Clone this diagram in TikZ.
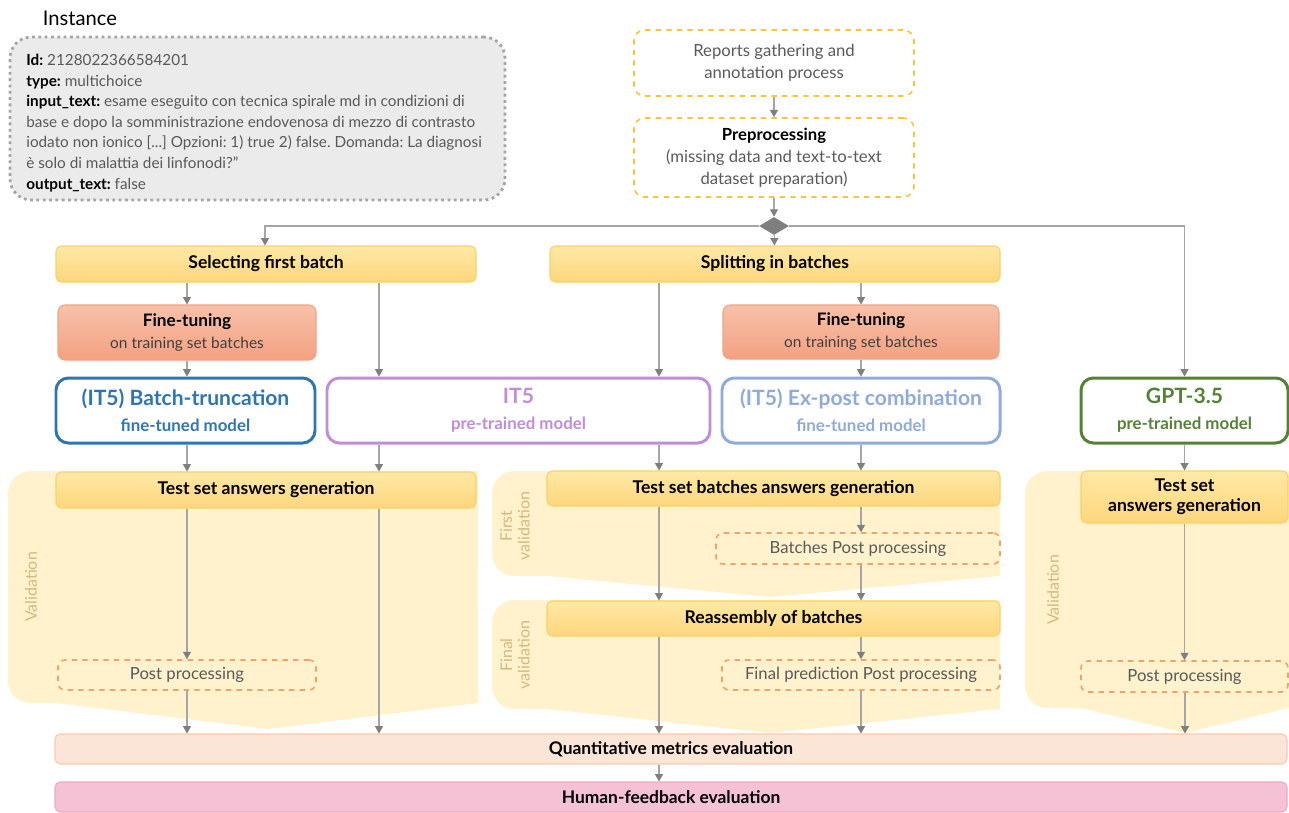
\documentclass[tikz,border=0pt]{standalone}
\usepackage{fontspec}
\setmainfont{Lato}
\usetikzlibrary{arrows.meta,shapes.geometric}
\frenchspacing

\definecolor{linegray}{HTML}{A6A6A6}
\definecolor{tipgray}{HTML}{7F7F7F}
\definecolor{instfill}{HTML}{EBEBEB}
\definecolor{instdraw}{HTML}{A5A5A5}
\definecolor{dashyel}{HTML}{FBC531}
\definecolor{yeltop}{HTML}{FEE9A6}
\definecolor{yelbot}{HTML}{FDD67C}
\definecolor{yeldraw}{HTML}{FBD166}
\definecolor{saltop}{HTML}{F7C1A9}
\definecolor{salbot}{HTML}{F3A181}
\definecolor{saldraw}{HTML}{F1A384}
\definecolor{btblue}{HTML}{2E75B6}
\definecolor{itpurple}{HTML}{C08DDA}
\definecolor{epblue}{HTML}{8FAADC}
\definecolor{gptgreen}{HTML}{548235}
\definecolor{region}{HTML}{FFF2CC}
\definecolor{valtxt}{HTML}{D2B980}
\definecolor{ppdash}{HTML}{F4A06A}
\definecolor{txtgray}{HTML}{595959}
\definecolor{qmefill}{HTML}{FBE5D6}
\definecolor{qmedraw}{HTML}{F8CBAD}
\definecolor{hfefill}{HTML}{F4C1D5}
\definecolor{hfedraw}{HTML}{F0A8C4}

% fonts of the model boxes
\newcommand{\mtitle}{\bfseries\fontsize{12}{14}\selectfont}
\newcommand{\msub}{\bfseries\fontsize{9.6}{11.5}\selectfont}
\newcommand{\tunesub}{\mdseries\fontsize{8.8}{10.5}\selectfont\color{black!75}}
\newcommand{\key}[1]{\textcolor{black}{\textbf{#1}}}

\tikzset{
  dims/.style 2 args={minimum width=#1*0.02cm, minimum height=#2*0.02cm},
  arr/.style={draw=linegray, line width=0.6pt, -{Triangle[width=4.6pt,length=4.2pt,color=tipgray]}},
  procbox/.style={font=\bfseries\fontsize{10}{11}\selectfont, rounded corners=3pt, draw=yeldraw, top color=yeltop, bottom color=yelbot, line width=0.6pt, align=center, inner sep=0pt},
  tunebox/.style={font=\bfseries\fontsize{9.8}{11.5}\selectfont, rounded corners=4pt, draw=saldraw, top color=saltop, bottom color=salbot, line width=0.6pt, align=center, inner sep=0pt},
  databox/.style={rounded corners=6pt, draw=dashyel, dashed, line width=0.9pt, align=center, inner sep=0pt, text=txtgray, font=\fontsize{9.5}{12.6}\selectfont},
  postbox/.style={rounded corners=4pt, draw=ppdash, dashed, line width=0.9pt, inner sep=0pt, text=txtgray, font=\fontsize{9.5}{11}\selectfont},
  modelbox/.style={rounded corners=7pt, fill=white, line width=1.7pt, align=center, inner sep=0pt},
  evalbox/.style={font=\bfseries\fontsize{9.9}{11}\selectfont, rounded corners=3pt, line width=0.6pt, inner sep=0pt},
  valtext/.style={rotate=90, text=valtxt, align=center, font=\fontsize{9.1}{10}\selectfont},
}

\begin{document}
\begin{tikzpicture}[x=0.02cm, y=-0.02cm]
\useasboundingbox (0,0) rectangle (1289,812);

% column positions of the vertical connectors
\coordinate (c0) at (265,0);
\coordinate (c1) at (187,0);
\coordinate (c2) at (379,0);
\coordinate (c3) at (659,0);
\coordinate (c4) at (861,0);
\coordinate (c5) at (1185,0);

% validation areas
\fill[region] (478,471) -- (478,703) -- (268,729) -- (56,703) [rounded corners=0.45cm] -- (8,703) -- (8,471) -- (56,471) [sharp corners] -- cycle;
\fill[region] (1000,471) -- (1000,576) -- (770,597) -- (547,576) [rounded corners=0.45cm] -- (492,576) -- (492,471) -- (547,471) [sharp corners] -- cycle;
\fill[region] (1000,600) -- (1000,709) -- (770,733) -- (547,709) [rounded corners=0.45cm] -- (492,709) -- (492,600) -- (547,600) [sharp corners] -- cycle;
\fill[region] (1289,471) -- (1289,708) -- (1185,733) -- (1081,708) [rounded corners=0.45cm] -- (1025,708) -- (1025,471) -- (1081,471) [sharp corners] -- cycle;

\node[valtext] (val1) at (31,587) {Validation};
\node[valtext] (val2) at (515,526) {First\\validation};
\node[valtext] (val3) at (515,655) {Final\\validation};
\node[valtext] (val4) at (1053,590) {Validation};

% instance example
\node[font=\fontsize{11.5}{13}\selectfont] (insttitle) at (80,18) {Instance};
\node[dims={495}{163}, rounded corners=12pt, fill=instfill, draw=instdraw, line width=1.6pt, dotted] (inst) at (257.5,118.5) {};
\node[anchor=west, align=left, inner sep=0pt, text=txtgray, font=\fontsize{8.7}{11.7}\selectfont] (insttext) at (26,123)
  {\key{Id:} 2128022366584201\\
   \key{type:} multichoice\\
   \key{input\_text:} esame eseguito con tecnica spirale md in condizioni di\\
   base e dopo la somministrazione endovenosa di mezzo di contrasto\\
   iodato non ionico [...] Opzioni: 1) true 2) false. Domanda: La diagnosi\\
   è solo di malattia dei linfonodi?"\\
   \key{output\_text:} false};

% data preparation
\node[databox, dims={280}{66}] (rep) at (774,63) {Reports gathering and\\annotation process};
\node[databox, dims={280}{79}] (pre) at (774,157.5) {\textcolor{black}{\textbf{Preprocessing}}\\(missing data and text-to-text\\dataset preparation)};
\node[diamond, fill=tipgray, dims={30}{18}, inner sep=0pt] (dia) at (774,226) {};

% batches
\node[procbox, dims={420}{36}] (sel) at (266,264) {Selecting first batch};
\node[procbox, dims={450}{36}] (spl) at (775,264) {Splitting in batches};
\node[tunebox, dims={258}{55}] (ft1) at (187,332.5) {Fine-tuning\\[1pt]{\tunesub on training set batches}};
\node[tunebox, dims={276}{54}] (ft2) at (861,332) {Fine-tuning\\[1pt]{\tunesub on training set batches}};

% models
\node[modelbox, draw=btblue, text=btblue, dims={259}{65}] (bt) at (185.5,410.5) {{\mtitle (IT5) Batch-truncation}\\[3pt]{\msub fine-tuned model}};
\node[modelbox, draw=itpurple, text=itpurple, dims={383}{65}] (it5) at (518.5,410.5) {{\mtitle IT5}\\[3pt]{\msub pre-trained model}};
\node[modelbox, draw=epblue, text=epblue, dims={278}{65}] (ep) at (861,410.5) {{\mtitle (IT5) Ex-post combination}\\[3pt]{\msub fine-tuned model}};
\node[modelbox, draw=gptgreen, text=gptgreen, dims={207}{65}] (gpt) at (1184.5,410.5) {{\mtitle GPT-3.5}\\[3pt]{\msub pre-trained model}};

% answers generation and post processing
\node[procbox, dims={420}{36}] (tg1) at (266,490) {Test set answers generation};
\node[procbox, dims={453}{35}] (tg2) at (773.5,488.5) {Test set batches answers generation};
\node[procbox, dims={207}{52}, font=\bfseries\fontsize{10}{11.2}\selectfont] (tg3) at (1184.5,497) {Test set\\answers generation};
\node[postbox, dims={258}{30}] (pp1) at (187,675) {Post processing};
\node[postbox, dims={284}{31}] (bpp) at (858,548.5) {Batches Post processing};
\node[procbox, dims={453}{35}] (rea) at (773.5,618.5) {Reassembly of batches};
\node[postbox, dims={278}{30}] (fpp) at (861,675) {Final prediction Post processing};
\node[postbox, dims={207}{31}] (pp3) at (1184.5,676.5) {Post processing};

% evaluation
\node[evalbox, fill=qmefill, draw=qmedraw, dims={1232}{30}] (qme) at (671,749) {Quantitative metrics evaluation};
\node[evalbox, fill=hfefill, draw=hfedraw, dims={1232}{30}] (hfe) at (671,797) {Human-feedback evaluation};

% connectors
\draw[arr] (rep) -- (pre);
\draw[arr] (pre) -- (dia);
\draw[arr] (dia) -- (spl);
\draw[arr] (dia.west) -| (sel.north -| c0);
\draw[arr] (dia.east) -| (gpt.north);
\draw[arr] (ft2) -- (ep);
\draw[arr] (gpt) -- (tg3);
\draw[arr] (tg3) -- (pp3);
\foreach \a/\b/\c in {sel/ft1/c1, ft1/bt/c1, sel/it5/c2, spl/it5/c3, spl/ft2/c4,
                      bt/tg1/c1, it5/tg1/c2, it5/tg2/c3, ep/tg2/c4,
                      tg1/pp1/c1, pp1/qme/c1, tg1/qme/c2,
                      tg2/rea/c3, tg2/bpp/c4, bpp/rea/c4,
                      rea/qme/c3, rea/fpp/c4, fpp/qme/c4,
                      pp3/qme/c5, qme/hfe/c3} {
    \draw[arr] (\a.south -| \c) -- (\b.north -| \c);
}

\end{tikzpicture}
\end{document}
